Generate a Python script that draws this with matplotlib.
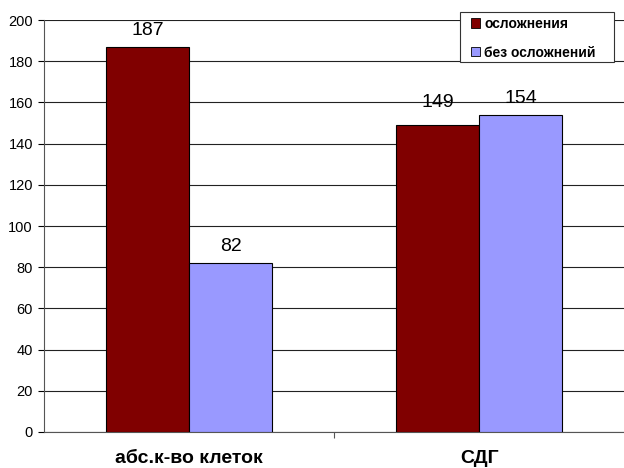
import matplotlib
matplotlib.use("Agg")
import matplotlib.pyplot as plt
from matplotlib.patches import Rectangle
import numpy as np

plt.rcParams['font.family'] = ['Liberation Sans', 'DejaVu Sans']

categories = ["абс.к-во клеток", "СДГ"]
series_names = ["осложнения", "без осложнений"]
with_compl = [187, 149]
without_compl = [82, 154]
colors = ["#800000", "#9999FF"]

fig = plt.figure(figsize=(6.24, 4.68), dpi=100)
ax = fig.add_axes([0.0705, 0.077, 0.93, 0.880])

x = np.arange(len(categories))
w = 0.286
b1 = ax.bar(x - w / 2, with_compl, w, color=colors[0], edgecolor="black", linewidth=0.8,
            label=series_names[0], zorder=3)
b2 = ax.bar(x + w / 2, without_compl, w, color=colors[1], edgecolor="black", linewidth=0.8,
            label=series_names[1], zorder=3)

# vertical offsets (points) of the value labels above each bar
label_offsets = [[5.5, 10.0], [5.5, 5.5]]
for si, (bars, vals) in enumerate(((b1, with_compl), (b2, without_compl))):
    for ci, (rect, v) in enumerate(zip(bars, vals)):
        ax.annotate(str(v), (rect.get_x() + rect.get_width() / 2, v),
                    xytext=(0, label_offsets[si][ci]), textcoords="offset points",
                    ha="center", va="bottom", fontsize=14, zorder=4)

ax.set_xlim(-0.5, 1.5)
ax.set_ylim(0, 200)
ax.set_yticks(range(0, 201, 20))
ax.tick_params(axis="y", labelsize=10.5, length=4, direction="out", width=0.8, pad=4)
ax.yaxis.grid(True, color="#222222", linewidth=0.8, zorder=0)

ax.set_xticks(x)
ax.set_xticklabels(categories, fontsize=14, fontweight="bold")
ax.tick_params(axis="x", length=0, pad=13)
ax.set_xticks([0.5], minor=True)
ax.tick_params(axis="x", which="minor", length=4, width=0.8, color="#555555")

for s in ("top", "right"):
    ax.spines[s].set_visible(False)
ax.spines["left"].set_color("#555555")
ax.spines["bottom"].set_color("#555555")
ax.spines["left"].set_linewidth(0.8)
ax.spines["bottom"].set_linewidth(0.8)

# legend box
W, H = 624, 468
ax.add_patch(Rectangle((460 / W, 1 - 62 / H), 154 / W, 50 / H,
                       transform=fig.transFigure, facecolor="white", clip_on=False,
                       edgecolor="#333333", linewidth=0.8, zorder=5))
leg = ax.legend(loc="upper left", bbox_to_anchor=(471 / W, 1 - 17 / H),
                bbox_transform=fig.transFigure, frameon=False,
                prop={"size": 10, "weight": "bold"}, handlelength=0.65, handleheight=0.65,
                handletextpad=0.3, labelspacing=1.05, borderpad=0, borderaxespad=0)
leg.set_zorder(6)
for h in leg.legend_handles:
    h.set_linewidth(0.6)

fig.savefig("out.png", dpi=100)
